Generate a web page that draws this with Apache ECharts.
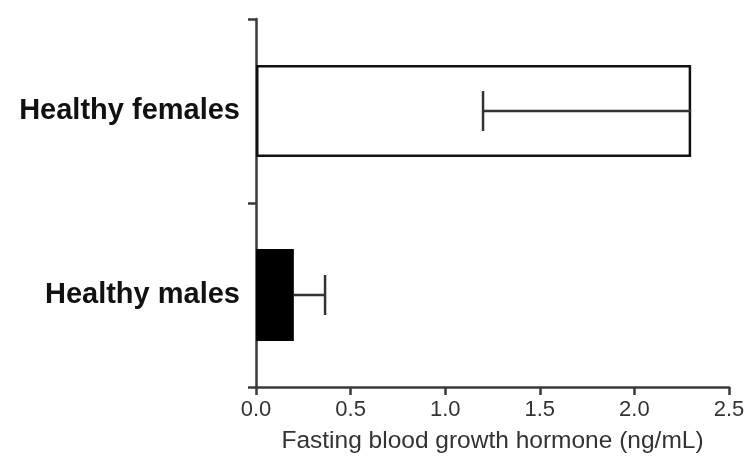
<!DOCTYPE html>
<html>
<head>
<meta charset="utf-8">
<script src="https://cdn.jsdelivr.net/npm/echarts@6/dist/echarts.min.js"></script>
<style>
html,body{margin:0;padding:0;background:#fff;}
#chart{width:748px;height:462px;}
</style>
</head>
<body>
<div id="chart"></div>
<script>
// Data (bottom to top)
const categories = ['Healthy males', 'Healthy females'];
const means = [0.2, 2.3];
const errorEnds = [0.365, 1.2];   // where the error bar cap sits
const xTicks = [0, 0.5, 1.0, 1.5, 2.0, 2.5];
const xTitle = 'Fasting blood growth hormone (ng/mL)';

const barStyles = [
  { color: '#000', borderColor: '#000', borderWidth: 2 },
  { color: '#fff', borderColor: '#111', borderWidth: 2.5 }
];

const chart = echarts.init(document.getElementById('chart'));
const axisColor = '#3a3a3a';

chart.setOption({
  backgroundColor: '#fff',
  animation: false,
  grid: { left: 256, right: 19, top: 19, bottom: 75 },
  xAxis: {
    type: 'value',
    min: xTicks[0],
    max: xTicks[xTicks.length - 1],
    interval: 0.5,
    name: xTitle,
    nameLocation: 'middle',
    nameGap: 42,
    nameTextStyle: { fontFamily: 'Liberation Sans, Arial, sans-serif', fontSize: 24.5, color: '#333' },
    axisLine: { show: true, lineStyle: { color: axisColor, width: 2.5 } },
    axisTick: { show: true, length: 8, lineStyle: { color: axisColor, width: 2.5 } },
    axisLabel: {
      margin: 12,
      fontFamily: 'Liberation Sans, Arial, sans-serif',
      fontSize: 22,
      color: '#333',
      formatter: v => v.toFixed(1)
    },
    splitLine: { show: false }
  },
  yAxis: {
    type: 'category',
    data: categories,
    axisLine: { show: true, lineStyle: { color: axisColor, width: 2.5 } },
    axisTick: { show: true, length: 8, alignWithLabel: false, lineStyle: { color: axisColor, width: 2.5 } },
    axisLabel: {
      margin: 16,
      fontFamily: 'Liberation Sans, Arial, sans-serif',
      fontSize: 29,
      fontWeight: 'bold',
      color: '#111'
    },
    splitLine: { show: false }
  },
  series: [
    {
      type: 'bar',
      barWidth: '50%',
      data: means.map((v, i) => ({ value: v, itemStyle: barStyles[i] })),
      z: 2
    },
    {
      type: 'custom',
      z: 3,
      clip: false,
      encode: { x: [0, 1], y: 2 },
      data: means.map((m, i) => [m, errorEnds[i], i]),
      renderItem: function (params, api) {
        const cat = api.value(2);
        const p0 = api.coord([api.value(0), cat]);
        const p1 = api.coord([api.value(1), cat]);
        const half = 20;
        const style = { stroke: '#333', lineWidth: 2.5 };
        return {
          type: 'group',
          children: [
            { type: 'line', shape: { x1: p0[0], y1: p0[1], x2: p1[0], y2: p1[1] }, style: style },
            { type: 'line', shape: { x1: p1[0], y1: p1[1] - half, x2: p1[0], y2: p1[1] + half }, style: style }
          ]
        };
      }
    }
  ]
});
</script>
</body>
</html>
